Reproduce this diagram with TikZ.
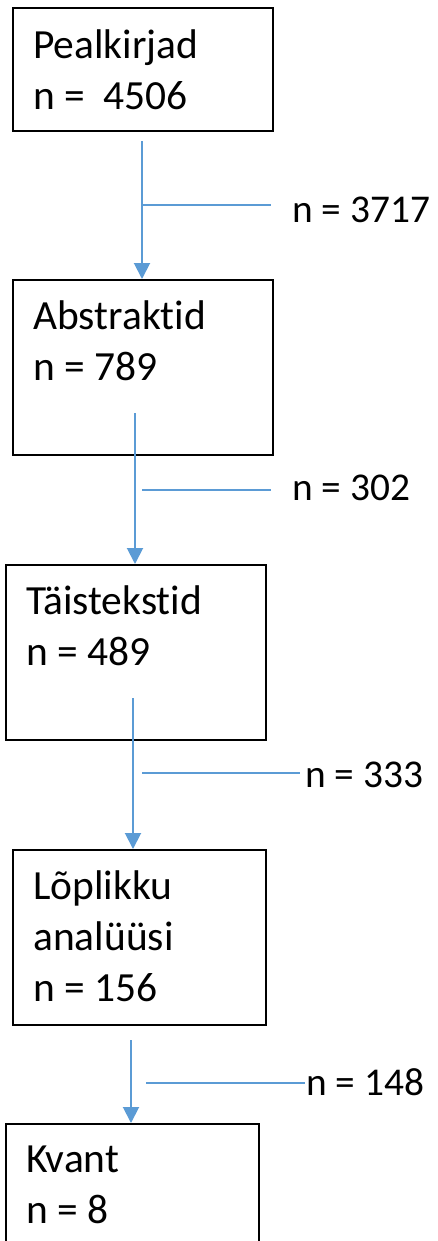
\documentclass[tikz,border=0pt]{standalone}
\usepackage{fontspec}
\setmainfont{Carlito}[Ligatures=NoCommon]
\usetikzlibrary{arrows.meta}
\definecolor{flowblue}{HTML}{5B9BD5}
\tikzset{
	box/.style={draw=black,line width=1.1pt,inner sep=0pt,anchor=north west},
	txt/.style={anchor=base west,inner sep=0pt,text width=4.6cm,align=flush left,font=\fontsize{23.6}{29.3}\selectfont},
	lab/.style={anchor=base west,inner sep=0pt,font=\fontsize{22.4}{29.3}\selectfont},
	flow/.style={draw=flowblue,line width=1.1pt,-{Triangle[width=0.32cm,length=0.32cm]}},
	drop/.style={draw=flowblue,line width=0.6pt}
}
\begin{document}
\begin{tikzpicture}[x=0.02cm,y=-0.02cm]
		\useasboundingbox (0,0) rectangle (438,1241);
		\clip (0,0) rectangle (438,1241);
		% boxes
		\node[box,minimum width=5.2cm,minimum height=2.46cm] (peal) at (12,7) {};
		\node[box,minimum width=5.2cm,minimum height=3.5cm] (abs) at (12,279) {};
		\node[box,minimum width=5.2cm,minimum height=3.5cm] (tais) at (5,564) {};
		\node[box,minimum width=5.06cm,minimum height=3.5cm] (lopl) at (12,849) {};
		\node[box,minimum width=5.06cm,minimum height=3cm] (kvant) at (5,1123) {};
		\node[txt] (pealT) at (33,58) {Pealkirjad\\n =\ \ 4506};
		\node[txt] (absT) at (33,329) {Abstraktid\\n = 789};
		\node[txt] (taisT) at (26,614) {Täistekstid\\n = 489};
		\node[txt] (loplT) at (33,899) {Lõplikku\\analüüsi\\n = 156};
		\node[txt] (kvantT) at (26,1172) {Kvant\\n = 8};
		% arrows
		\coordinate (t1) at (142,141);
		\coordinate (t2) at (135,413);
		\coordinate (t3) at (133,698);
		\coordinate (t4) at (131,1040);
		\draw[flow] (t1) -- (t1 |- abs.north);
		\draw[flow] (t2) -- (t2 |- tais.north);
		\draw[flow] (t3) -- (t3 |- lopl.north);
		\draw[flow] (t4) -- (t4 |- kvant.north);
		% excluded
		\coordinate (d1) at (143,205);
		\coordinate (e1) at (271,205);
		\coordinate (d2) at (142,490);
		\coordinate (e2) at (271,490);
		\coordinate (d3) at (142,773);
		\coordinate (e3) at (300,773);
		\coordinate (d4) at (146,1083);
		\coordinate (e4) at (305,1083);
		\draw[drop] (d1) -- (e1);
		\draw[drop] (d2) -- (e2);
		\draw[drop] (d3) -- (e3);
		\draw[drop] (d4) -- (e4);
		\node[lab] (x1) at (292,222) {n = 3717};
		\node[lab] (x2) at (292,500) {n = 302};
		\node[lab] (x3) at (305,787) {n = 333};
		\node[lab] (x4) at (306,1095) {n = 148};
	\end{tikzpicture}
\end{document}
